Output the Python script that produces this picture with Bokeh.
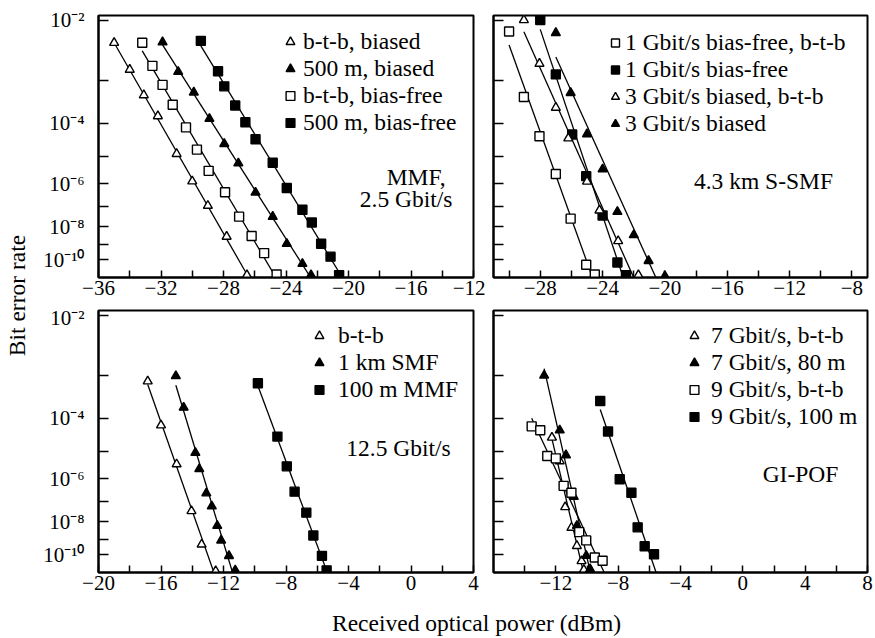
import numpy as np
from bokeh.plotting import figure
from bokeh.layouts import row, column
from bokeh.models import (FixedTicker, Range1d, Label, Legend, LegendItem,
                          CustomJSTickFormatter)
from bokeh.embed import file_html
from bokeh.resources import INLINE

# ---------------- data (x: received power in dBm, y: log10(BER)) ----------------
# Panel a: MMF, 2.5 Gbit/s
mmf_btb_biased_x = [-35.0, -34.0, -33.1, -32.2, -31.0, -30.0, -29.0, -27.8, -26.5]
mmf_btb_biased_y = [-2.33, -2.79, -3.31, -3.81, -4.91, -5.90, -6.95, -8.55, -11.07]
mmf_500_biased_x = [-31.9, -30.9, -29.9, -28.9, -27.95, -27.05, -25.95, -24.85, -23.95, -22.95, -22.4]
mmf_500_biased_y = [-2.32, -2.83, -3.25, -3.88, -4.59, -5.23, -6.36, -7.48, -8.97, -10.26, -11.07]
mmf_btb_free_x = [-33.2, -32.55, -31.9, -31.25, -30.4, -29.7, -28.95, -27.9, -27.0, -26.2, -25.4, -24.6]
mmf_btb_free_y = [-2.33, -2.72, -3.09, -3.53, -4.11, -4.77, -5.50, -6.35, -7.48, -8.52, -9.55, -11.03]
mmf_500_free_x = [-29.45, -28.35, -27.95, -27.25, -26.6, -25.95, -24.85, -23.95, -22.95, -22.35, -21.75, -21.15, -20.6]
mmf_500_free_y = [-2.30, -2.82, -3.12, -3.55, -3.97, -4.45, -5.21, -6.17, -7.14, -7.78, -8.97, -9.78, -11.07]

# Panel b: 4.3 km S-SMF
smf_1g_btb_x = [-30.0, -29.05, -28.05, -27.0, -26.05, -25.05, -24.5]
smf_1g_btb_y = [-2.16, -3.35, -4.36, -5.62, -7.58, -10.33, -11.03]
smf_1g_x = [-28.0, -27.0, -25.95, -25.05, -24.0, -23.05, -22.5]
smf_1g_y = [-2.0, -2.88, -4.31, -5.70, -7.42, -10.17, -11.07]
smf_3g_btb_x = [-29.05, -28.05, -27.0, -26.2, -25.0, -24.2, -23.0, -21.7]
smf_3g_btb_y = [-2.0, -2.68, -3.60, -4.42, -5.91, -7.17, -8.81, -11.07]
smf_3g_x = [-27.0, -26.05, -25.0, -24.0, -23.05, -22.0, -21.05, -20.0]
smf_3g_y = [-2.18, -3.26, -4.30, -5.44, -7.24, -8.46, -10.06, -11.14]

# Panel c: 12.5 Gbit/s
g125_btb_x = [-16.85, -16.0, -15.0, -14.05, -13.4, -12.5]
g125_btb_y = [-3.12, -4.19, -5.44, -7.45, -9.32, -11.14]
g125_1km_x = [-15.05, -14.55, -13.8, -13.55, -13.1, -12.75, -12.4, -12.15, -11.65, -11.25]
g125_1km_y = [-3.01, -3.72, -5.04, -5.62, -6.61, -7.21, -8.22, -9.07, -10.06, -11.09]
g125_100m_x = [-9.8, -8.55, -7.95, -7.45, -6.7, -6.25, -5.7, -5.4]
g125_100m_y = [-3.16, -4.52, -5.52, -6.54, -7.53, -8.78, -10.06, -11.09]

# Panel d: GI-POF
pof_7_btb_x = [-12.25, -11.75, -11.4, -11.0, -10.65, -10.35, -10.2]
pof_7_btb_y = [-4.55, -5.33, -7.25, -8.33, -9.41, -10.42, -11.05]
pof_7_80_x = [-12.75, -11.75, -11.35, -10.85, -10.65, -10.05, -9.8]
pof_7_80_y = [-3.0, -4.33, -5.12, -6.77, -8.22, -10.05, -11.0]
pof_9_btb_x = [-13.55, -13.0, -12.55, -12.0, -11.5, -11.0, -10.5, -10.05, -9.5, -9.0]
pof_9_btb_y = [-4.22, -4.33, -5.15, -5.23, -6.29, -6.59, -8.58, -9.07, -10.17, -10.40]
pof_9_100_x = [-9.15, -8.65, -7.9, -7.15, -6.75, -6.3, -5.7]
pof_9_100_y = [-3.56, -4.37, -6.02, -6.59, -8.31, -9.43, -9.95]

# axis ticks
y_major_exp = [2, 4, 6, 8, 10]
y_minor_exp = [3, 5, 7, 9]
y_major_text = ["10\u207b\u00b2", "10\u207b\u2074", "10\u207b\u2076", "10\u207b\u2078", "10\u207b\u00b9\u2070"]

FONT = "Liberation Serif"
TXT = "23.5px"
Y_TOP_EXP = 1.94
Y_BOT_EXP = 11.25


def qt(log_ber):
    """BER scale: -log10(-log10(BER))"""
    return -np.log10(-np.asarray(log_ber, dtype=float))


def qe(exp):
    return -np.log10(np.asarray(exp, dtype=float))


def make_panel(width, height, xr, xticks, xminor, left_labels, borders):
    bl, br, bt, bb = borders
    p = figure(width=width, height=height, x_range=Range1d(*xr),
               y_range=Range1d(float(qe(Y_BOT_EXP)), float(qe(Y_TOP_EXP))),
               tools="", toolbar_location=None, output_backend="svg",
               min_border_left=bl, min_border_right=br, min_border_top=bt,
               min_border_bottom=bb)
    p.xgrid.visible = False
    p.ygrid.visible = False
    p.outline_line_color = "black"
    p.outline_line_width = 2
    p.background_fill_color = "white"
    p.border_fill_color = "white"
    for ax in (p.xaxis[0], p.yaxis[0]):
        ax.axis_line_color = "black"
        ax.axis_line_width = 2
        ax.major_tick_out = 0
        ax.minor_tick_out = 0
        ax.major_tick_line_width = 1.5
        ax.minor_tick_line_width = 1.5
        ax.major_label_text_font = FONT
        ax.major_label_text_font_size = "21px"
        ax.major_label_text_color = "black"
    p.xaxis.major_tick_in = 7
    p.xaxis.minor_tick_in = 7
    p.yaxis.major_tick_in = 10
    p.yaxis.minor_tick_in = 10
    p.xaxis.ticker = FixedTicker(ticks=xticks, minor_ticks=xminor)
    p.xaxis.major_label_standoff = 3
    p.yaxis.ticker = FixedTicker(ticks=list(qe(y_major_exp)), minor_ticks=list(qe(y_minor_exp)))
    if left_labels:
        p.yaxis.formatter = CustomJSTickFormatter(
            args=dict(exps=y_major_exp, texts=y_major_text),
            code="const k = Math.round(Math.pow(10, -tick)); const i = exps.indexOf(k); return i >= 0 ? texts[i] : '';")
        p.yaxis.major_label_standoff = 14
    else:
        p.yaxis.formatter = CustomJSTickFormatter(code="return '';")
        p.yaxis.major_label_standoff = 0
    return p


def add_series(p, x, y, marker, filled, label, items):
    x = np.asarray(x, dtype=float)
    yt = qt(y)
    m, b = np.polyfit(x, yt, 1)
    ybot = float(qe(Y_BOT_EXP))
    xend = max(x[-1], (ybot - b) / m)
    xl = np.array([x[0], xend])
    p.line(xl, m * xl + b, line_color="black", line_width=1.3)
    r = p.scatter(x, yt, marker=marker, size=9, line_color="black", line_width=1.4,
                  fill_color="black" if filled else "white")
    items.append(LegendItem(label=label, renderers=[r]))


def add_legend(p, items, loc, standoff, gw=22):
    lg = Legend(items=items, location=loc, padding=0, margin=0, spacing=0,
                glyph_height=27, glyph_width=gw, label_height=27,
                label_standoff=standoff, border_line_color=None,
                background_fill_alpha=0, label_text_font=FONT,
                label_text_font_size=TXT, label_text_color="black")
    p.add_layout(lg)


def add_text(p, x, y, text, align):
    p.add_layout(Label(x=x, y=y, x_units="screen", y_units="screen", text=text,
                       text_align=align, text_baseline="alphabetic", text_font=FONT,
                       text_font_size=TXT, text_color="black"))


# ---------------- panels ----------------
tl = make_panel(455, 305, (-36, -12), list(range(-36, -11, 4)), list(range(-34, -12, 4)),
                True, (68, 12, 15, 28))
items = []
add_series(tl, mmf_btb_biased_x, mmf_btb_biased_y, "triangle", False, "b-t-b, biased", items)
add_series(tl, mmf_500_biased_x, mmf_500_biased_y, "triangle", True, "500 m, biased", items)
add_series(tl, mmf_btb_free_x, mmf_btb_free_y, "square", False, "b-t-b, bias-free", items)
add_series(tl, mmf_500_free_x, mmf_500_free_y, "square", True, "500 m, bias-free", items)
add_legend(tl, items, (181, 141), 2)
add_text(tl, 347, 101, "MMF,", "right")
add_text(tl, 354, 79, "2.5 Gbit/s", "right")

tr = make_panel(390, 305, (-31, -7), list(range(-28, -7, 4)), list(range(-30, -7, 4)),
                False, (8, 8, 15, 28))
items = []
add_series(tr, smf_1g_btb_x, smf_1g_btb_y, "square", False, "1 Gbit/s bias-free, b-t-b", items)
add_series(tr, smf_1g_x, smf_1g_y, "square", True, "1 Gbit/s bias-free", items)
add_series(tr, smf_3g_btb_x, smf_3g_btb_y, "triangle", False, "3 Gbit/s biased, b-t-b", items)
add_series(tr, smf_3g_x, smf_3g_y, "triangle", True, "3 Gbit/s biased", items)
add_legend(tr, items, (112, 140), 0, gw=20)
add_text(tr, 270, 97, "4.3 km S-SMF", "center")

bl = make_panel(455, 295, (-20, 4), list(range(-20, 5, 4)), list(range(-18, 4, 4)),
                True, (68, 12, 5, 28))
items = []
add_series(bl, g125_btb_x, g125_btb_y, "triangle", False, "b-t-b", items)
add_series(bl, g125_1km_x, g125_1km_y, "triangle", True, "1 km SMF", items)
add_series(bl, g125_100m_x, g125_100m_y, "square", True, "100 m MMF", items)
add_legend(bl, items, (210, 169), 8)
add_text(bl, 300, 125, "12.5 Gbit/s", "center")

br = make_panel(390, 295, (-16, 8), list(range(-12, 9, 4)), list(range(-14, 8, 4)),
                False, (8, 8, 5, 28))
items = []
add_series(br, pof_7_btb_x, pof_7_btb_y, "triangle", False, "7 Gbit/s, b-t-b", items)
add_series(br, pof_7_80_x, pof_7_80_y, "triangle", True, "7 Gbit/s, 80 m", items)
add_series(br, pof_9_btb_x, pof_9_btb_y, "square", False, "9 Gbit/s, b-t-b", items)
add_series(br, pof_9_100_x, pof_9_100_y, "square", True, "9 Gbit/s, 100 m", items)
add_legend(br, items, (190, 142), 6)
add_text(br, 307, 99, "GI-POF", "center")


def style_title_axis(ax, text):
    ax.axis_label = text
    ax.ticker = FixedTicker(ticks=[])
    ax.axis_line_color = None
    ax.major_tick_line_color = None
    ax.minor_tick_line_color = None
    ax.major_tick_out = 0
    ax.major_tick_in = 0
    ax.major_label_text_font_size = "0px"
    ax.axis_label_standoff = 0
    ax.axis_label_text_font = FONT
    ax.axis_label_text_font_size = TXT
    ax.axis_label_text_font_style = "normal"
    ax.axis_label_text_color = "black"


# shared axis titles (span both panel rows / columns)
ylab = figure(width=30, height=600, x_axis_type=None, x_range=Range1d(0, 1),
              y_range=Range1d(0, 1), tools="", toolbar_location=None,
              output_backend="svg", min_border_left=0, min_border_right=0,
              min_border_top=0, min_border_bottom=10)
ylab.outline_line_color = None
ylab.ygrid.visible = False
style_title_axis(ylab.yaxis[0], "Bit error rate")

xlab = figure(width=875, height=38, y_axis_type=None, x_range=Range1d(0, 1),
              y_range=Range1d(0, 1), tools="", toolbar_location=None,
              output_backend="svg", min_border_left=83, min_border_right=0,
              min_border_top=0, min_border_bottom=0)
xlab.outline_line_color = None
xlab.xgrid.visible = False
style_title_axis(xlab.xaxis[0], "Received optical power  (dBm)")

layout = column(row(ylab, column(row(tl, tr), row(bl, br))), xlab)

open("out.html", "w").write(file_html(layout, INLINE))
